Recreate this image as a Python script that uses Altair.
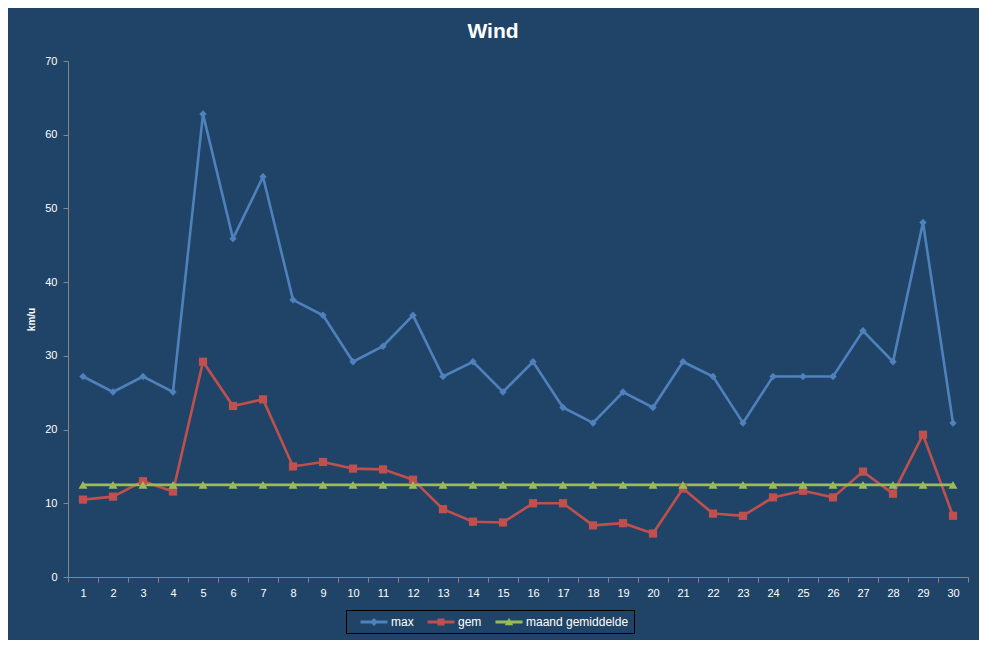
import altair as alt
import pandas as pd

days = list(range(1, 31))
max_vals = [27.2, 25.1, 27.2, 25.1, 62.8, 45.9, 54.3, 37.6, 35.5, 29.2,
            31.3, 35.5, 27.2, 29.2, 25.1, 29.2, 23.0, 20.9, 25.1, 23.0,
            29.2, 27.2, 20.9, 27.2, 27.2, 27.2, 33.4, 29.2, 48.1, 20.9]
gem_vals = [10.5, 10.9, 13.0, 11.6, 29.2, 23.2, 24.1, 15.0, 15.6, 14.7,
            14.6, 13.2, 9.2, 7.5, 7.4, 10.0, 10.0, 7.0, 7.3, 5.9,
            12.0, 8.6, 8.3, 10.8, 11.7, 10.8, 14.3, 11.3, 19.3, 8.3]
maand_vals = [12.5, 12.5, 12.5, 12.5, 12.5, 12.5, 12.5, 12.5, 12.5, 12.5,
              12.5, 12.5, 12.5, 12.5, 12.5, 12.5, 12.5, 12.5, 12.5, 12.5,
              12.5, 12.5, 12.5, 12.5, 12.5, 12.5, 12.5, 12.5, 12.5, 12.5]
series_names = ["max", "gem", "maand gemiddelde"]
series_colors = ["#4F81BD", "#C0504D", "#9BBB59"]
y_ticks = [0, 10, 20, 30, 40, 50, 60, 70]

rows = []
for name, vals in zip(series_names, [max_vals, gem_vals, maand_vals]):
    for d, v in zip(days, vals):
        rows.append({"day": d, "series": name, "value": v})
df = pd.DataFrame(rows)

BG = "#1F4467"
FONT = "Liberation Sans"

# legend symbols: a short line with the series marker on it
bar = "M-1.93,-0.21L1.93,-0.21L1.93,0.21L-1.93,0.21Z"
diamond = "M0,-0.57L0.57,0L0,0.57L-0.57,0Z"
square = "M-0.5,-0.5L0.5,-0.5L0.5,0.5L-0.5,0.5Z"
triangle = "M0,-0.6L0.6,0.45L-0.6,0.45Z"
legend_shapes = [bar + diamond, bar + square, bar + triangle]

color_scale = alt.Scale(domain=series_names, range=series_colors)

x_enc = alt.X("day:O", bandPosition=0.5,
              scale=alt.Scale(type="band", paddingInner=0, paddingOuter=0),
              axis=alt.Axis(title=None, tickBand="extent", labelAngle=0,
                            labelColor="white", labelFont=FONT, labelFontSize=11,
                            domainColor="#868686", tickColor="#868686",
                            tickSize=5, labelPadding=5, grid=False))
y_enc = alt.Y("value:Q", scale=alt.Scale(domain=[0, 70], nice=False),
              axis=alt.Axis(title="km/u", values=y_ticks, grid=False,
                            labelColor="white", labelFont=FONT, labelFontSize=11,
                            domainColor="#868686", tickColor="#868686",
                            tickSize=5, labelPadding=6,
                            titleColor="white", titleFont=FONT, titleFontSize=10,
                            titleFontWeight="bold", titlePadding=8))

base = alt.Chart(df).encode(x=x_enc, y=y_enc)

lines = base.mark_line(strokeWidth=2.6).encode(
    color=alt.Color("series:N", scale=color_scale, legend=None)
)
points = base.mark_point(filled=True, opacity=1).encode(
    color=alt.Color("series:N", scale=color_scale, legend=None),
    shape=alt.Shape("series:N",
                    scale=alt.Scale(domain=series_names,
                                    range=["diamond", "square", "triangle-up"]),
                    legend=None),
    size=alt.Size("series:N",
                  scale=alt.Scale(domain=series_names, range=[55, 80, 55]),
                  legend=None),
)

legend = alt.Legend(
    title=" ", titleOrient="left", titleFontSize=11, titlePadding=16,
    orient="none", legendX=278, legendY=549,
    direction="horizontal", strokeColor="black", fillColor=BG,
    padding=5, labelColor="white", labelFont=FONT, labelFontSize=12,
    labelExpr="datum.label === 'maand gemiddelde' ? datum.label + '\u00a0\u00a0\u00a0\u00a0' : datum.label",
    symbolSize=196, symbolStrokeWidth=0, symbolOpacity=1,
    columnPadding=13, labelOffset=10,
)
legend_layer = base.mark_point(filled=True, opacity=0).encode(
    color=alt.Color("series:N", scale=color_scale, legend=legend),
    shape=alt.Shape("series:N",
                    scale=alt.Scale(domain=series_names, range=legend_shapes),
                    legend=legend),
)

chart = alt.layer(lines, points, legend_layer).resolve_scale(
    color="independent", shape="independent"
).properties(
    width=900, height=516,
    autosize=alt.AutoSizeParams(type="none"),
    padding={"left": 60, "top": 53, "right": 11, "bottom": 63},
    background=BG,
    title=alt.TitleParams("Wind", anchor="middle", fontSize=21,
                          fontWeight="bold", color="white", font=FONT,
                          offset=13, dx=-25),
).configure_view(strokeWidth=0)

chart.save("out.html", embed_options={"renderer": "svg", "actions": False})
